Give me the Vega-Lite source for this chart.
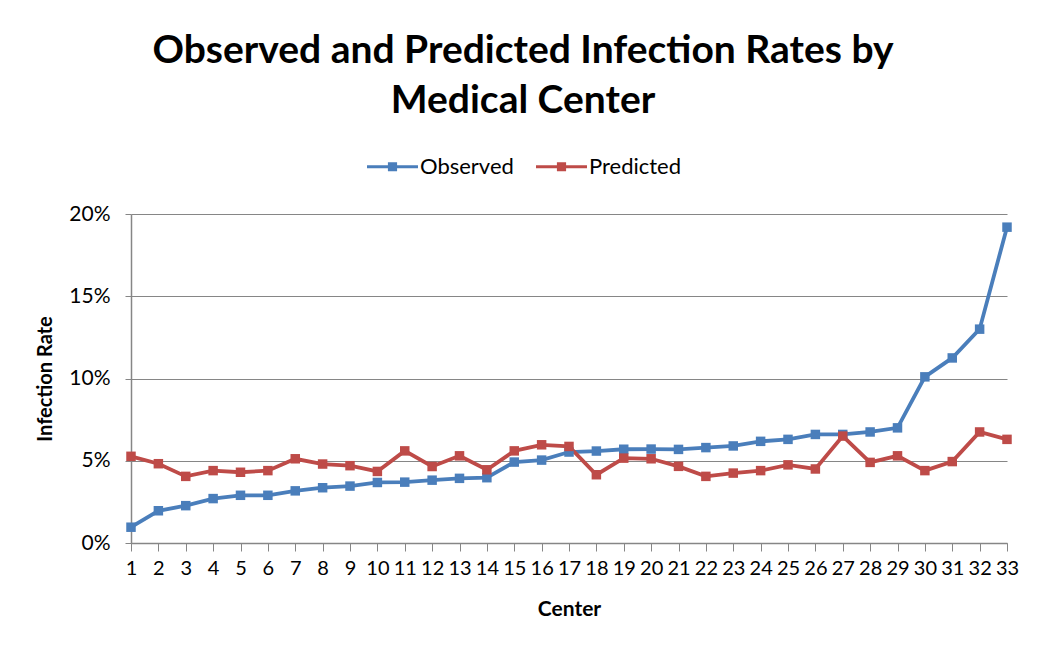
{
  "$schema": "https://vega.github.io/schema/vega-lite/v6.json",
  "autosize": "none",
  "width": 876,
  "height": 329,
  "padding": {"left": 131, "top": 214, "right": 43, "bottom": 116},
  "background": "white",
  "title": {
    "text": ["Observed and Predicted Infection Rates by", "Medical Center"],
    "font": "Lato",
    "fontSize": 39,
    "fontWeight": "bold",
    "color": "#000000",
    "anchor": "middle",
    "dx": -46,
    "lineHeight": 50,
    "offset": 20
  },
  "data": {
    "values": [
      {"center": 1, "series": "Observed", "rate": 0.0096},
      {"center": 2, "series": "Observed", "rate": 0.0196},
      {"center": 3, "series": "Observed", "rate": 0.0227},
      {"center": 4, "series": "Observed", "rate": 0.027},
      {"center": 5, "series": "Observed", "rate": 0.029},
      {"center": 6, "series": "Observed", "rate": 0.029},
      {"center": 7, "series": "Observed", "rate": 0.0317},
      {"center": 8, "series": "Observed", "rate": 0.0336},
      {"center": 9, "series": "Observed", "rate": 0.0346},
      {"center": 10, "series": "Observed", "rate": 0.0368},
      {"center": 11, "series": "Observed", "rate": 0.037},
      {"center": 12, "series": "Observed", "rate": 0.0382},
      {"center": 13, "series": "Observed", "rate": 0.0393},
      {"center": 14, "series": "Observed", "rate": 0.0397},
      {"center": 15, "series": "Observed", "rate": 0.0492},
      {"center": 16, "series": "Observed", "rate": 0.0504},
      {"center": 17, "series": "Observed", "rate": 0.0553},
      {"center": 18, "series": "Observed", "rate": 0.0559},
      {"center": 19, "series": "Observed", "rate": 0.057},
      {"center": 20, "series": "Observed", "rate": 0.0571},
      {"center": 21, "series": "Observed", "rate": 0.0569},
      {"center": 22, "series": "Observed", "rate": 0.058},
      {"center": 23, "series": "Observed", "rate": 0.059},
      {"center": 24, "series": "Observed", "rate": 0.0618},
      {"center": 25, "series": "Observed", "rate": 0.063},
      {"center": 26, "series": "Observed", "rate": 0.066},
      {"center": 27, "series": "Observed", "rate": 0.066},
      {"center": 28, "series": "Observed", "rate": 0.0675},
      {"center": 29, "series": "Observed", "rate": 0.07},
      {"center": 30, "series": "Observed", "rate": 0.101},
      {"center": 31, "series": "Observed", "rate": 0.1125},
      {"center": 32, "series": "Observed", "rate": 0.13},
      {"center": 33, "series": "Observed", "rate": 0.192},
      {"center": 1, "series": "Predicted", "rate": 0.0527},
      {"center": 2, "series": "Predicted", "rate": 0.0482},
      {"center": 3, "series": "Predicted", "rate": 0.0405},
      {"center": 4, "series": "Predicted", "rate": 0.044},
      {"center": 5, "series": "Predicted", "rate": 0.043},
      {"center": 6, "series": "Predicted", "rate": 0.044},
      {"center": 7, "series": "Predicted", "rate": 0.0512},
      {"center": 8, "series": "Predicted", "rate": 0.048},
      {"center": 9, "series": "Predicted", "rate": 0.047},
      {"center": 10, "series": "Predicted", "rate": 0.0435},
      {"center": 11, "series": "Predicted", "rate": 0.056},
      {"center": 12, "series": "Predicted", "rate": 0.0465},
      {"center": 13, "series": "Predicted", "rate": 0.053},
      {"center": 14, "series": "Predicted", "rate": 0.0445},
      {"center": 15, "series": "Predicted", "rate": 0.056},
      {"center": 16, "series": "Predicted", "rate": 0.0597},
      {"center": 17, "series": "Predicted", "rate": 0.0587},
      {"center": 18, "series": "Predicted", "rate": 0.0415},
      {"center": 19, "series": "Predicted", "rate": 0.0516},
      {"center": 20, "series": "Predicted", "rate": 0.0512},
      {"center": 21, "series": "Predicted", "rate": 0.0466},
      {"center": 22, "series": "Predicted", "rate": 0.0405},
      {"center": 23, "series": "Predicted", "rate": 0.0425},
      {"center": 24, "series": "Predicted", "rate": 0.044},
      {"center": 25, "series": "Predicted", "rate": 0.0475},
      {"center": 26, "series": "Predicted", "rate": 0.045},
      {"center": 27, "series": "Predicted", "rate": 0.065},
      {"center": 28, "series": "Predicted", "rate": 0.049},
      {"center": 29, "series": "Predicted", "rate": 0.053},
      {"center": 30, "series": "Predicted", "rate": 0.044},
      {"center": 31, "series": "Predicted", "rate": 0.0495},
      {"center": 32, "series": "Predicted", "rate": 0.0675},
      {"center": 33, "series": "Predicted", "rate": 0.063}
    ]
  },
  "mark": {
    "type": "line",
    "strokeWidth": 3.8,
    "point": {"shape": "square", "filled": true, "size": 90, "opacity": 1}
  },
  "encoding": {
    "x": {
      "field": "center",
      "type": "ordinal",
      "scale": {"type": "point", "padding": 0},
      "axis": {
        "title": "Center",
        "titleFont": "Lato",
        "titleFontSize": 21,
        "titleFontWeight": "bold",
        "titleColor": "#000000",
        "titlePadding": 20,
        "labelAngle": 0,
        "labelFont": "Lato",
        "labelFontSize": 20,
        "labelColor": "#000000",
        "labelPadding": 7,
        "tickSize": 8,
        "tickColor": "#868686",
        "domainColor": "#868686",
        "domainWidth": 1.5,
        "grid": false
      }
    },
    "y": {
      "field": "rate",
      "type": "quantitative",
      "scale": {"domain": [0, 0.2], "nice": false},
      "axis": {
        "title": "Infection Rate",
        "titleFont": "Lato",
        "titleFontSize": 20,
        "titleFontWeight": "bold",
        "titleColor": "#000000",
        "titlePadding": 13,
        "values": [0, 0.05, 0.1, 0.15, 0.2],
        "format": ".0%",
        "labelFont": "Lato",
        "labelFontSize": 21,
        "labelColor": "#000000",
        "labelPadding": 15,
        "tickSize": 6,
        "tickColor": "#868686",
        "domainColor": "#868686",
        "domainWidth": 1.5,
        "gridColor": "#868686",
        "gridWidth": 1.2
      }
    },
    "color": {
      "field": "series",
      "type": "nominal",
      "scale": {"domain": ["Observed", "Predicted"], "range": ["#4A7EBB", "#BE4B48"]},
      "legend": {
        "title": null,
        "orient": "none",
        "direction": "horizontal",
        "legendX": 236,
        "legendY": -73,
        "labelFont": "Lato",
        "labelFontSize": 22,
        "labelColor": "#000000",
        "labelOffset": 2,
        "columnPadding": 22,
        "symbolType": "M-1,-0.06H1V0.06H-1ZM-0.18,-0.18H0.18V0.18H-0.18Z",
        "symbolSize": 2600,
        "symbolStrokeWidth": 0,
        "encode": {"symbols": {"update": {"fill": {"scale": "color", "field": "value"}, "strokeWidth": {"value": 0}}}}
      }
    }
  },
  "config": {
    "view": {"stroke": null}
  }
}
